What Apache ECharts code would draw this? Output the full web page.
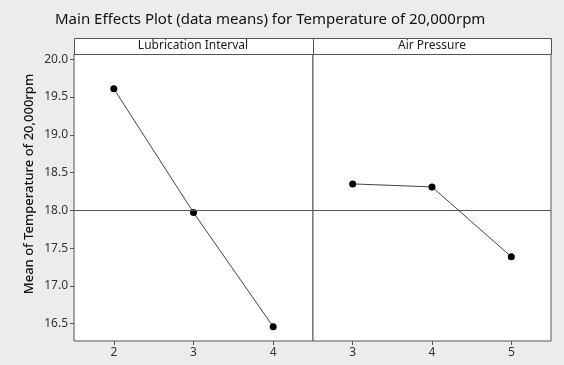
<!DOCTYPE html>
<html>
<head>
<meta charset="utf-8">
<script src="https://cdn.jsdelivr.net/npm/echarts@6/dist/echarts.min.js"></script>
<style>
  html, body { margin: 0; padding: 0; background: #ececec; }
  #main { width: 564px; height: 365px; }
</style>
</head>
<body>
<div id="main"></div>
<script>
  // factor levels and means
  var lubLevels = [2, 3, 4];
  var lubMeans = [19.61, 17.97, 16.46];
  var airLevels = [3, 4, 5];
  var airMeans = [18.35, 18.31, 17.385];
  var grandMean = 18.0;
  var yTicks = [16.5, 17.0, 17.5, 18.0, 18.5, 19.0, 19.5, 20.0];
  var panelNames = ['Lubrication Interval', 'Air Pressure'];
  var yName = 'Mean of Temperature of 20,000rpm';

  var font = 'Noto Sans';
  var chart = echarts.init(document.getElementById('main'));

  function xAx(idx, min, max, ticks) {
    return {
      gridIndex: idx,
      type: 'value',
      min: min,
      max: max,
      axisLine: { show: false },
      axisTick: { show: true, customValues: ticks, length: 4, lineStyle: { color: '#555' } },
      axisLabel: { customValues: ticks, color: '#333', fontSize: 12, fontFamily: font, margin: 6 },
      splitLine: { show: false }
    };
  }

  function yAx(idx, show) {
    return {
      gridIndex: idx,
      type: 'value',
      min: 16.27,
      max: 20.07,
      axisLine: { show: false },
      axisTick: { show: show, customValues: yTicks, length: 4, lineStyle: { color: '#555' } },
      axisLabel: {
        show: show, customValues: yTicks, color: '#333', fontSize: 12, fontFamily: font, margin: 6,
        formatter: function (v) { return v.toFixed(1); }
      },
      splitLine: { show: false }
    };
  }

  function mkSeries(idx, xs, ys) {
    return {
      type: 'line',
      xAxisIndex: idx,
      yAxisIndex: idx,
      data: xs.map(function (x, i) { return [x, ys[i]]; }),
      symbol: 'circle',
      symbolSize: 7,
      itemStyle: { color: '#000' },
      lineStyle: { color: '#444', width: 1 },
      silent: true,
      markLine: {
        silent: true,
        symbol: 'none',
        label: { show: false },
        lineStyle: { color: '#555', width: 1, type: 'solid' },
        data: [{ yAxis: grandMean }]
      }
    };
  }

  chart.setOption({
    backgroundColor: '#ececec',
    animation: false,
    title: {
      text: 'Main Effects Plot (data means) for Temperature of 20,000rpm',
      left: 50,
      top: 7,
      textStyle: { color: '#111', fontSize: 15, fontWeight: 'normal', fontFamily: font }
    },
    grid: [
      { left: 74, right: 251, top: 54, bottom: 24, show: true, backgroundColor: '#fff', borderColor: '#555', borderWidth: 1 },
      { left: 313, right: 13, top: 54, bottom: 24, show: true, backgroundColor: '#fff', borderColor: '#555', borderWidth: 1 }
    ],
    xAxis: [xAx(0, 1.5, 4.5, lubLevels), xAx(1, 2.5, 5.5, airLevels)],
    yAxis: [yAx(0, true), yAx(1, false)],
    series: [mkSeries(0, lubLevels, lubMeans), mkSeries(1, airLevels, airMeans)],
    graphic: [
      {
        type: 'rect', left: 74, top: 38,
        shape: { width: 239, height: 16 },
        style: { fill: '#fff', stroke: '#555', lineWidth: 1 }
      },
      {
        type: 'rect', left: 313, top: 38,
        shape: { width: 238, height: 16 },
        style: { fill: '#fff', stroke: '#555', lineWidth: 1 }
      },
      {
        type: 'text', x: 193, y: 46,
        style: { text: panelNames[0], fill: '#222', font: '12px "' + font + '"', textAlign: 'center', textVerticalAlign: 'middle' }
      },
      {
        type: 'text', x: 432, y: 46,
        style: { text: panelNames[1], fill: '#222', font: '12px "' + font + '"', textAlign: 'center', textVerticalAlign: 'middle' }
      },
      {
        type: 'text', x: 29, y: 184, rotation: Math.PI / 2,
        style: { text: yName, fill: '#111', font: '500 13px "' + font + '"', textAlign: 'center', textVerticalAlign: 'middle' }
      }
    ]
  });
</script>
</body>
</html>
